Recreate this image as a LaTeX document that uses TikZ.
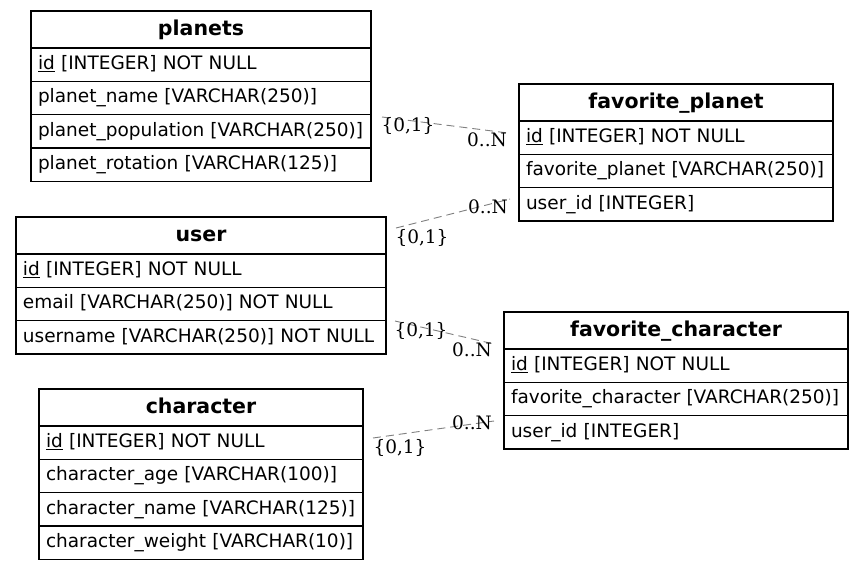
\documentclass[tikz,border=0pt]{standalone}
\usepackage{fontspec}
\setmainfont{DejaVu Sans}
\newfontfamily\lblfont{DejaVu Serif}
\begin{document}
\begin{tikzpicture}[x=1pt,y=-1pt,
  hdr/.style={draw=black, line width=1.2pt, outer sep=0pt, inner sep=0pt, minimum height=37pt,
    font=\fontsize{20.5}{22}\selectfont\bfseries, text height=15pt, text depth=4pt},
  rowbox/.style={draw=black, line width=1.2pt, outer sep=0pt, inner ysep=0pt, inner xsep=7pt,
    minimum height=33.33pt, align=left,
    font=\fontsize{18.5}{20}\selectfont, text height=13.5pt, text depth=4pt},
  conn/.style={draw=gray, line width=0.9pt, dash pattern=on 8pt off 5pt},
  card/.style={font=\lblfont\fontsize{18.5}{20}\selectfont, inner sep=0pt, text=black}
]
\newcommand{\ertable}[6]{%
  \pgfmathsetmacro\tabtw{#4-14}%
  \node[hdr, minimum width=#4pt, anchor=north west] (#1) at (#2,#3) {#5};
  \foreach \r [count=\i] in {#6} {
    \node[rowbox, text width=\tabtw pt, anchor=north west] (#1-\i) at (#2,{#3+37+(\i-1)*33.33}) {\r};
  }
}
\useasboundingbox[fill=white] (0,0) rectangle (864,571);

\ertable{planets}{31}{11}{340}{planets}{\underline{id} [INTEGER] NOT NULL, planet\_name [VARCHAR(250)], planet\_population [VARCHAR(250)], planet\_rotation [VARCHAR(125)]}
\ertable{favplanet}{519}{84}{314}{favorite\_planet}{\underline{id} [INTEGER] NOT NULL, favorite\_planet [VARCHAR(250)], user\_id [INTEGER]}
\ertable{user}{16}{217}{370}{user}{\underline{id} [INTEGER] NOT NULL, email [VARCHAR(250)] NOT NULL, username [VARCHAR(250)] NOT NULL}
\ertable{favchar}{504}{312}{344}{favorite\_character}{\underline{id} [INTEGER] NOT NULL, favorite\_character [VARCHAR(250)], user\_id [INTEGER]}
\ertable{character}{39}{389}{324}{character}{\underline{id} [INTEGER] NOT NULL, character\_age [VARCHAR(100)], character\_name [VARCHAR(125)], character\_weight [VARCHAR(10)]}

\coordinate (e1a) at (382,117); \coordinate (e1b) at (508,133);
\coordinate (e2a) at (396,228); \coordinate (e2b) at (510,199);
\coordinate (e3a) at (395,321); \coordinate (e3b) at (494,344);
\coordinate (e4a) at (373,438); \coordinate (e4b) at (494,421);
\draw[conn] (e1a) -- (e1b);
\draw[conn] (e2a) -- (e2b);
\draw[conn] (e3a) -- (e3b);
\draw[conn] (e4a) -- (e4b);

\node[card] (l1a) at (408,126) {\{0,1\}};
\node[card] (l1b) at (487,140) {0..N};
\node[card] (l2a) at (422,238) {\{0,1\}};
\node[card] (l2b) at (488,207) {0..N};
\node[card] (l3a) at (421,331) {\{0,1\}};
\node[card] (l3b) at (472,350) {0..N};
\node[card] (l4a) at (400,448) {\{0,1\}};
\node[card] (l4b) at (472,423) {0..N};
\end{tikzpicture}
\end{document}
